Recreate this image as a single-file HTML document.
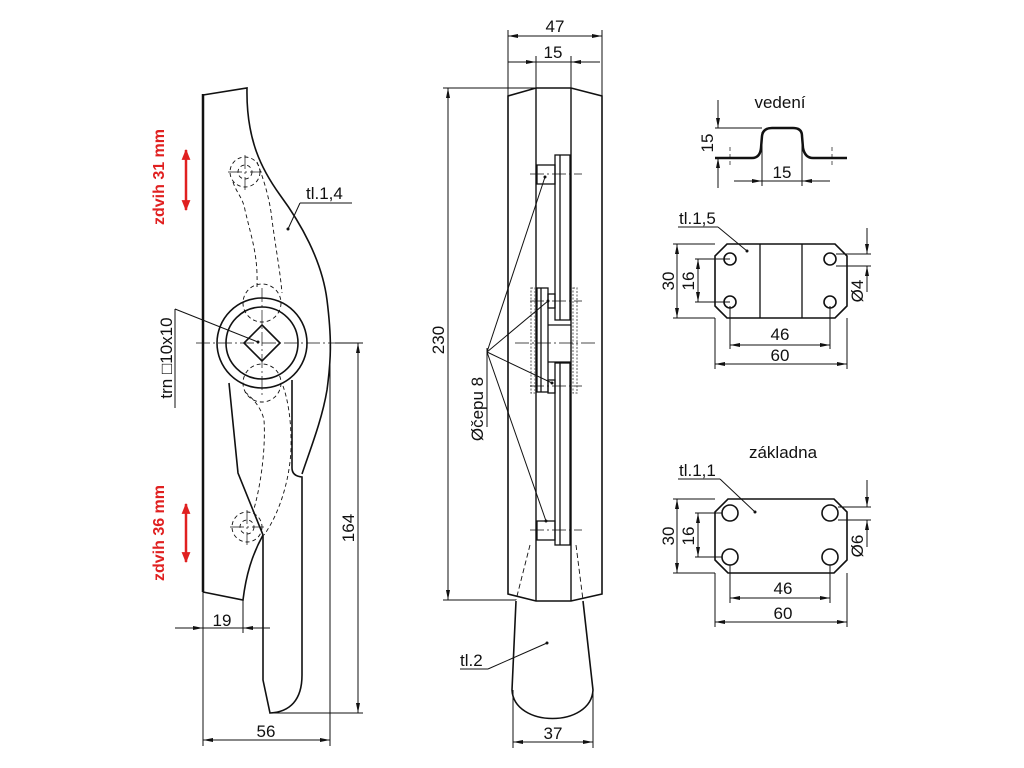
<!DOCTYPE html>
<html><head><meta charset="utf-8"><style>
html,body{margin:0;padding:0;background:#fff;}
svg{display:block;}
text{font-family:"Liberation Sans",sans-serif;font-size:17px;fill:#111;}
</style></head><body>
<svg width="1024" height="768" viewBox="0 0 1024 768" xmlns="http://www.w3.org/2000/svg">
<defs>
<marker id="a" viewBox="0 0 10 4" refX="10" refY="2" markerWidth="10" markerHeight="4" markerUnits="userSpaceOnUse" orient="auto-start-reverse"><path d="M0,0L10,2L0,4z" fill="#111"/></marker>
<marker id="r" viewBox="0 0 10 8" refX="9" refY="4" markerWidth="11" markerHeight="9" markerUnits="userSpaceOnUse" orient="auto-start-reverse"><path d="M0,0L10,4L0,8z" fill="#e02020"/></marker>
</defs>
<g fill="none" stroke="#111" stroke-width="1">
<!-- LEFT PART -->
<line x1="203" y1="94" x2="203" y2="592" stroke-width="2.5"/>
<path d="M203,95 L247,88 C246,140 262,170 280,195 C300,222 322,260 327,300 C332,340 331,360 327,390 C322,420 310,450 302,474" stroke-width="1.6"/>
<path d="M292,380 L292,468 Q292,476 302,477 L302,675 C302,700 290,712 270,713 L263,680 L263,535" stroke-width="1.6"/>
<path d="M203,592 L243,600 C246,575 252,555 263,535 L238,473 L229,383" stroke-width="1.6"/>
<circle cx="262" cy="343" r="45" stroke-width="1.6"/>
<circle cx="262" cy="343" r="36" stroke-width="1.6"/>
<path d="M262,325 L280,343 L262,361 L244,343z" stroke-width="1.6"/>
<g stroke-dasharray="4,3" stroke-width="0.9">
<circle cx="245" cy="172" r="15"/><circle cx="245" cy="172" r="7"/>
<circle cx="247" cy="527" r="15"/><circle cx="247" cy="527" r="7"/>
<circle cx="262" cy="303" r="19"/><circle cx="262" cy="383" r="19"/>
<path d="M233,182 C236,192 243,198 245,210 C252,240 258,255 257,287"/>
<path d="M257,162 C264,180 270,200 272,220 C276,250 280,270 282,293"/>
<path d="M245,392 C255,400 262,410 264,420 C266,450 260,490 253,512"/>
<path d="M283,386 C288,400 291,420 291,440 C292,470 282,510 264,535"/>
</g>
<g stroke-dasharray="14,3,2,3" stroke-width="0.7">
<line x1="196" y1="343" x2="340" y2="343"/>
<line x1="262" y1="288" x2="262" y2="398"/>
<line x1="228" y1="172" x2="262" y2="172"/><line x1="245" y1="155" x2="245" y2="190"/>
<line x1="230" y1="527" x2="264" y2="527"/><line x1="247" y1="510" x2="247" y2="545"/>
</g>
<!-- left dims -->
<line x1="175" y1="309" x2="175" y2="408"/>
<line x1="175" y1="309" x2="258" y2="342"/>
<line x1="300" y1="203" x2="352" y2="203"/><line x1="300" y1="203" x2="288" y2="229"/>
<line x1="243" y1="600" x2="243" y2="633"/>
<line x1="175" y1="628" x2="203" y2="628" marker-end="url(#a)"/>
<line x1="270" y1="628" x2="243" y2="628" marker-end="url(#a)"/>
<line x1="203" y1="628" x2="243" y2="628"/>
<line x1="203" y1="592" x2="203" y2="746"/>
<line x1="330" y1="345" x2="330" y2="746"/>
<line x1="203" y1="740" x2="330" y2="740" marker-start="url(#a)" marker-end="url(#a)"/>
<line x1="335" y1="343" x2="363" y2="343"/>
<line x1="272" y1="713" x2="363" y2="713"/>
<line x1="358" y1="343" x2="358" y2="713" marker-start="url(#a)" marker-end="url(#a)"/>

<!-- MIDDLE PART -->
<line x1="508" y1="30" x2="508" y2="96"/><line x1="602" y1="30" x2="602" y2="96"/>
<line x1="508" y1="36" x2="602" y2="36" marker-start="url(#a)" marker-end="url(#a)"/>
<line x1="536" y1="56" x2="536" y2="88"/><line x1="571" y1="56" x2="571" y2="88"/>
<line x1="508" y1="62" x2="536" y2="62" marker-end="url(#a)"/>
<line x1="600" y1="62" x2="571" y2="62" marker-end="url(#a)"/>
<line x1="536" y1="62" x2="571" y2="62"/>
<path d="M508,96 L536,88 L571,88 L602,96 L602,594 L571,601 L536,601 L508,594 Z" stroke-width="1.6"/>
<line x1="536" y1="88" x2="536" y2="601" stroke-width="1.4"/>
<line x1="571" y1="88" x2="571" y2="601" stroke-width="1.4"/>
<g stroke-width="1.3">
<rect x="555" y="155" width="15" height="165"/><line x1="560" y1="155" x2="560" y2="320"/>
<rect x="537" y="165" width="18" height="19"/>
<rect x="537" y="288" width="11" height="104"/><line x1="541" y1="288" x2="541" y2="392"/>
<rect x="548" y="294" width="7" height="14"/><rect x="548" y="380" width="7" height="13"/>
<line x1="548" y1="325" x2="571" y2="325"/><line x1="548" y1="362" x2="571" y2="362"/>
<rect x="555" y="363" width="15" height="182"/><line x1="560" y1="363" x2="560" y2="545"/>
<rect x="537" y="521" width="18" height="19"/>
</g>
<g stroke-dasharray="2,1.5" stroke-width="1.2" stroke="#777">
<rect x="531" y="288" width="4" height="105"/><rect x="573" y="288" width="4" height="105"/>
</g>
<g stroke-dasharray="5,3" stroke-width="0.9">
<line x1="530" y1="545" x2="516" y2="600"/><line x1="576" y1="545" x2="583" y2="600"/>
</g>
<g stroke-dasharray="14,3,2,3" stroke-width="0.7">
<line x1="530" y1="174" x2="582" y2="174"/><line x1="530" y1="301" x2="582" y2="301"/>
<line x1="515" y1="343" x2="595" y2="343"/><line x1="530" y1="386" x2="582" y2="386"/>
<line x1="530" y1="530" x2="582" y2="530"/>
</g>
<path d="M516,601 L512,690 C514,728 591,728 593,690 L583,601" stroke-width="1.6"/>
<line x1="443" y1="88" x2="536" y2="88"/><line x1="443" y1="600" x2="516" y2="600"/>
<line x1="448" y1="88" x2="448" y2="600" marker-start="url(#a)" marker-end="url(#a)"/>
<line x1="513" y1="690" x2="513" y2="748"/><line x1="593" y1="690" x2="593" y2="748"/>
<line x1="513" y1="742" x2="593" y2="742" marker-start="url(#a)" marker-end="url(#a)"/>
<line x1="487" y1="348" x2="487" y2="427"/>
<line x1="487" y1="352" x2="545" y2="177"/><line x1="487" y1="352" x2="548" y2="301"/>
<line x1="487" y1="352" x2="552" y2="383"/><line x1="487" y1="352" x2="546" y2="521"/>
<line x1="460" y1="669" x2="488" y2="669"/><line x1="488" y1="669" x2="547" y2="643"/>

<!-- VEDENI -->
<path d="M715,158 L752,158 Q760,158 761,148 L762,136 Q763,128 772,128 L793,128 Q802,128 802,136 L803,148 Q805,158 813,158 L847,158" stroke-width="2.5"/>
<line x1="715" y1="128" x2="762" y2="128"/>
<line x1="718" y1="100" x2="718" y2="128" marker-end="url(#a)"/>
<line x1="718" y1="188" x2="718" y2="158" marker-end="url(#a)"/>
<line x1="762" y1="132" x2="762" y2="186"/><line x1="802" y1="132" x2="802" y2="186"/>
<line x1="734" y1="181" x2="762" y2="181" marker-end="url(#a)"/>
<line x1="830" y1="181" x2="802" y2="181" marker-end="url(#a)"/>
<line x1="762" y1="181" x2="802" y2="181"/>
<g stroke-dasharray="4,3" stroke-width="0.7"><line x1="730" y1="147" x2="730" y2="167"/><line x1="832" y1="147" x2="832" y2="167"/></g>

<!-- PLATE tl.1,5 -->
<path d="M727,244 L835,244 L847,256 L847,306 L835,318 L727,318 L715,306 L715,256 Z" stroke-width="1.6"/>
<line x1="760" y1="244" x2="760" y2="318" stroke-width="1.3"/><line x1="802" y1="244" x2="802" y2="318" stroke-width="1.3"/>
<circle cx="730" cy="259" r="6" stroke-width="1.6"/><circle cx="830" cy="259" r="6" stroke-width="1.6"/>
<circle cx="730" cy="302" r="6" stroke-width="1.6"/><circle cx="830" cy="302" r="6" stroke-width="1.6"/>
<line x1="678" y1="227" x2="718" y2="227"/><line x1="718" y1="227" x2="747" y2="251"/>
<line x1="673" y1="244" x2="715" y2="244"/><line x1="673" y1="318" x2="715" y2="318"/>
<line x1="677" y1="244" x2="677" y2="318" marker-start="url(#a)" marker-end="url(#a)"/>
<line x1="695" y1="259" x2="730" y2="259"/><line x1="695" y1="302" x2="730" y2="302"/>
<line x1="698" y1="259" x2="698" y2="302" marker-start="url(#a)" marker-end="url(#a)"/>
<line x1="836" y1="254" x2="871" y2="254"/><line x1="836" y1="266" x2="871" y2="266"/>
<line x1="867" y1="228" x2="867" y2="254" marker-end="url(#a)"/>
<line x1="867" y1="292" x2="867" y2="266" marker-end="url(#a)"/>
<line x1="730" y1="306" x2="730" y2="349"/><line x1="830" y1="306" x2="830" y2="349"/>
<line x1="730" y1="345" x2="830" y2="345" marker-start="url(#a)" marker-end="url(#a)"/>
<line x1="715" y1="318" x2="715" y2="369"/><line x1="847" y1="318" x2="847" y2="369"/>
<line x1="715" y1="364" x2="847" y2="364" marker-start="url(#a)" marker-end="url(#a)"/>

<!-- PLATE tl.1,1 -->
<path d="M728,499 L834,499 L847,512 L847,560 L834,573 L728,573 L715,560 L715,512 Z" stroke-width="1.6"/>
<circle cx="730" cy="513" r="8" stroke-width="1.6"/><circle cx="830" cy="513" r="8" stroke-width="1.6"/>
<circle cx="730" cy="557" r="8" stroke-width="1.6"/><circle cx="830" cy="557" r="8" stroke-width="1.6"/>
<line x1="678" y1="479" x2="720" y2="479"/><line x1="720" y1="479" x2="755" y2="512"/>
<line x1="673" y1="499" x2="715" y2="499"/><line x1="673" y1="573" x2="715" y2="573"/>
<line x1="677" y1="499" x2="677" y2="573" marker-start="url(#a)" marker-end="url(#a)"/>
<line x1="695" y1="513" x2="722" y2="513"/><line x1="695" y1="557" x2="722" y2="557"/>
<line x1="698" y1="513" x2="698" y2="557" marker-start="url(#a)" marker-end="url(#a)"/>
<line x1="838" y1="507" x2="871" y2="507"/><line x1="838" y1="520" x2="871" y2="520"/>
<line x1="867" y1="480" x2="867" y2="507" marker-end="url(#a)"/>
<line x1="867" y1="547" x2="867" y2="520" marker-end="url(#a)"/>
<line x1="730" y1="565" x2="730" y2="603"/><line x1="830" y1="565" x2="830" y2="603"/>
<line x1="730" y1="598" x2="830" y2="598" marker-start="url(#a)" marker-end="url(#a)"/>
<line x1="715" y1="573" x2="715" y2="627"/><line x1="847" y1="573" x2="847" y2="627"/>
<line x1="715" y1="622" x2="847" y2="622" marker-start="url(#a)" marker-end="url(#a)"/>
</g>
<g fill="#111">
<circle cx="288" cy="229" r="1.5"/><circle cx="258" cy="342" r="1.5"/>
<circle cx="545" cy="177" r="1.5"/><circle cx="548" cy="301" r="1.5"/><circle cx="552" cy="383" r="1.5"/><circle cx="546" cy="521" r="1.5"/>
<circle cx="547" cy="643" r="1.5"/><circle cx="747" cy="251" r="1.5"/><circle cx="755" cy="512" r="1.5"/>
</g>
<g stroke="#e02020" stroke-width="2.5" fill="none">
<line x1="186" y1="150" x2="186" y2="210" marker-start="url(#r)" marker-end="url(#r)"/>
<line x1="186" y1="504" x2="186" y2="562" marker-start="url(#r)" marker-end="url(#r)"/>
</g>
<text x="164" y="177" transform="rotate(-90 164 177)" text-anchor="middle" style="fill:#e02020;font-weight:bold;font-size:16px">zdvih 31 mm</text>
<text x="164" y="533" transform="rotate(-90 164 533)" text-anchor="middle" style="fill:#e02020;font-weight:bold;font-size:16px">zdvih 36 mm</text>
<text x="172" y="358" transform="rotate(-90 172 358)" text-anchor="middle">trn □10x10</text>
<text x="306" y="199">tl.1,4</text>
<text x="222" y="626" text-anchor="middle">19</text>
<text x="266" y="737" text-anchor="middle">56</text>
<text x="354" y="528" transform="rotate(-90 354 528)" text-anchor="middle">164</text>
<text x="555" y="32" text-anchor="middle">47</text>
<text x="553" y="58" text-anchor="middle">15</text>
<text x="444" y="340" transform="rotate(-90 444 340)" text-anchor="middle">230</text>
<text x="483" y="409" transform="rotate(-90 483 409)" text-anchor="middle">Øčepu 8</text>
<text x="460" y="666">tl.2</text>
<text x="553" y="739" text-anchor="middle">37</text>
<text x="780" y="108" text-anchor="middle">vedení</text>
<text x="713" y="143" transform="rotate(-90 713 143)" text-anchor="middle">15</text>
<text x="782" y="178" text-anchor="middle">15</text>
<text x="679" y="224">tl.1,5</text>
<text x="674" y="281" transform="rotate(-90 674 281)" text-anchor="middle">30</text>
<text x="694" y="281" transform="rotate(-90 694 281)" text-anchor="middle">16</text>
<text x="863" y="291" transform="rotate(-90 863 291)" text-anchor="middle">Ø4</text>
<text x="780" y="340" text-anchor="middle">46</text>
<text x="780" y="361" text-anchor="middle">60</text>
<text x="783" y="458" text-anchor="middle">základna</text>
<text x="679" y="476">tl.1,1</text>
<text x="674" y="536" transform="rotate(-90 674 536)" text-anchor="middle">30</text>
<text x="694" y="536" transform="rotate(-90 694 536)" text-anchor="middle">16</text>
<text x="863" y="546" transform="rotate(-90 863 546)" text-anchor="middle">Ø6</text>
<text x="783" y="594" text-anchor="middle">46</text>
<text x="783" y="619" text-anchor="middle">60</text>
</svg>
</body></html>
